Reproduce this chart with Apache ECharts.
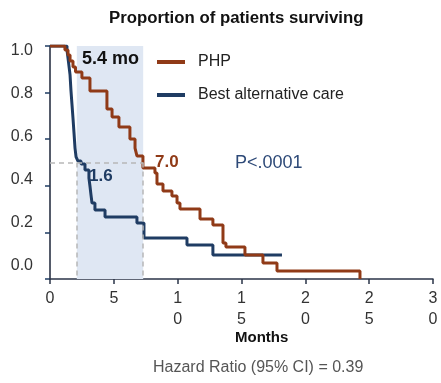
<!DOCTYPE html>
<html><head><meta charset="utf-8">
<script src="https://cdn.jsdelivr.net/npm/echarts@6/dist/echarts.min.js"></script>
<style>html,body{margin:0;padding:0;background:#fff}#c{width:441px;height:383px}</style>
</head><body><div id="c"></div>
<script>
// ---- data ----
const xTicks = [0, 5, 10, 15, 20, 25, 30];
const yTicks = [0, 0.2, 0.4, 0.6, 0.8, 1.0];
const phpMonths = [0, 1.17, 1.41, 1.57, 1.80, 2.0, 2.5, 3.13, 4.46, 4.86, 5.4, 6.26, 6.66, 6.81, 7.28, 8.22, 8.38, 8.85, 9.55, 9.95, 10.18, 11.75, 12.76, 13.55, 13.78, 15.27, 16.68, 17.78, 24.28];
const phpSurv   = [1.0, 0.983, 0.961, 0.936, 0.910, 0.888, 0.863, 0.807, 0.730, 0.695, 0.652, 0.601, 0.562, 0.528, 0.476, 0.455, 0.408, 0.378, 0.356, 0.326, 0.300, 0.258, 0.232, 0.155, 0.137, 0.103, 0.069, 0.034, 0.0];
const bacMonths = [0, 1.33, 1.45, 1.57, 1.64, 1.72, 1.80, 1.88, 1.96, 2.04, 2.19, 2.43, 2.74, 3.05, 3.13, 3.21, 3.29, 3.52, 4.31, 6.81, 7.36, 10.73, 12.76, 18.17];
const bacSurv   = [1.0, 0.983, 0.931, 0.876, 0.811, 0.751, 0.691, 0.627, 0.562, 0.524, 0.506, 0.494, 0.468, 0.433, 0.399, 0.361, 0.326, 0.296, 0.266, 0.240, 0.176, 0.146, 0.103, 0.103];
const bandRange = [2.1, 7.3];      // shaded median band (months)
const medianLevel = 0.5;
const seriesNames = ['PHP', 'Best alternative care'];
const medianLabels = ['7.0', '1.6'];
const bandLabel = '5.4 mo';
const pLabel = 'P<.0001';
const hrLabel = 'Hazard Ratio (95% CI) = 0.39';
const xTitle = 'Months';
const chartTitle = 'Proportion of patients surviving';

// ---- chart ----
const BROWN = '#903a17', NAVY = '#1f3c63', FONT = 'Liberation Sans, Arial, sans-serif';
const zip = (a, b) => a.map((v, i) => [v, b[i]]);
const chart = echarts.init(document.getElementById('c'), null, {renderer: 'canvas'});
chart.setOption({
  animation: false,
  textStyle: {fontFamily: FONT},
  grid: {left: 50, right: 8, top: 46, bottom: 104},
  legend: {
    orient: 'vertical', left: 152, top: 49, itemGap: 17,
    icon: 'rect', itemWidth: 28, itemHeight: 4,
    data: seriesNames,
    textStyle: {fontSize: 16, color: '#222', fontFamily: FONT, padding: [0, 0, 0, 8]}
  },
  xAxis: {
    type: 'value', min: 0, max: 30, interval: 5,
    axisLine: {lineStyle: {color: '#2b3448', width: 1.5}},
    axisTick: {length: 5, lineStyle: {color: '#2b3448', width: 1.5}},
    splitLine: {show: false},
    axisLabel: {
      fontSize: 16, color: '#333', margin: 9, lineHeight: 21,
      customValues: xTicks,
      formatter: v => String(v).split('').join('\n')
    }
  },
  yAxis: [{
    type: 'value', min: 0, max: 1, interval: 0.2,
    axisLine: {show: true, lineStyle: {color: '#1d2538', width: 1.5}},
    axisTick: {show: true, length: 5, lineStyle: {color: NAVY, width: 1.5}},
    splitLine: {show: false},
    axisLabel: {show: false}
  }, {
    type: 'value', position: 'left', min: -0.0605, max: 1.0233,
    axisLine: {show: false}, axisTick: {show: false}, splitLine: {show: false},
    axisLabel: {
      show: true, customValues: yTicks, fontSize: 16, color: '#333', margin: 17,
      formatter: v => v.toFixed(1)
    }
  }],
  series: [{
    name: seriesNames[1], type: 'line', step: 'end', symbol: 'none', z: 3,
    data: zip(bacMonths, bacSurv),
    lineStyle: {color: NAVY, width: 3}, itemStyle: {color: NAVY},
    markArea: {
      silent: true, itemStyle: {color: '#dfe7f3'}, z: 1,
      data: [[{coord: [bandRange[0], 1]}, {coord: [bandRange[1], 0]}]]
    },
    markLine: {
      silent: true, symbol: 'none', label: {show: false},
      lineStyle: {color: '#b8b8b8', type: [5, 4], width: 1.5},
      data: [
        [{coord: [0, medianLevel]}, {coord: [bandRange[1], medianLevel]}],
        [{coord: [bandRange[0], medianLevel]}, {coord: [bandRange[0], 0]}],
        [{coord: [bandRange[1], medianLevel]}, {coord: [bandRange[1], 0]}]
      ]
    }
  }, {
    name: seriesNames[0], type: 'line', step: 'end', symbol: 'none', z: 4,
    data: zip(phpMonths, phpSurv),
    lineStyle: {color: BROWN, width: 3}, itemStyle: {color: BROWN}
  }],
  graphic: [
    {type: 'text', z: 100, left: 109, top: 10, style: {text: chartTitle, font: 'bold 16.8px ' + FONT, fill: '#111'}},
    {type: 'text', z: 100, left: 82, top: 50, style: {text: bandLabel, font: 'bold 18px ' + FONT, fill: '#111'}},
    {type: 'text', z: 100, left: 155, top: 154, style: {text: medianLabels[0], font: 'bold 17px ' + FONT, fill: BROWN}},
    {type: 'text', z: 100, left: 89, top: 168, style: {text: medianLabels[1], font: 'bold 17px ' + FONT, fill: NAVY}},
    {type: 'text', z: 100, left: 235, top: 154, style: {text: pLabel, font: '18px ' + FONT, fill: '#2e4a78'}},
    {type: 'text', z: 100, left: 235, top: 330, style: {text: xTitle, font: 'bold 15px ' + FONT, fill: '#111'}},
    {type: 'text', z: 100, left: 153, top: 360, style: {text: hrLabel, font: '16px ' + FONT, fill: '#555'}}
  ]
});
</script></body></html>
